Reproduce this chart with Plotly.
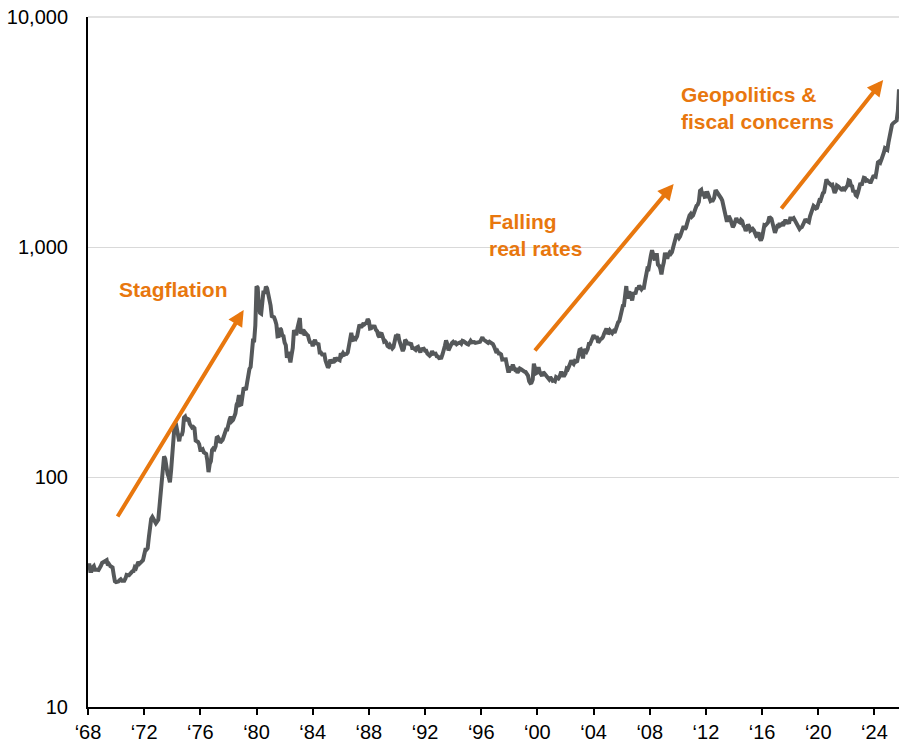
import math
import pandas as pd
import plotly.graph_objects as go

# Gold price, monthly (USD/oz)
gold_1968_1979 = [
    40, 42, 39, 39, 40.5, 41, 39.5, 39.3, 39.5, 39.4, 40, 41.1,
    42.3, 42.6, 43.3, 43.5, 43.5, 41.3, 41.8, 41.0, 40.9, 40.4, 37.5, 35.2,
    34.9, 35.0, 35.1, 35.6, 35.9, 35.4, 35.3, 35.4, 36.2, 37.5, 37.4, 37.4,
    37.9, 38.7, 38.9, 39.0, 40.5, 40.1, 41.0, 42.7, 42.0, 42.5, 42.9, 43.5,
    45.8, 48.3, 48.3, 49.0, 54.6, 62.1, 65.7, 67.0, 65.5, 64.9, 62.9, 63.9,
    65.1, 74.2, 84.4, 90.5, 102, 123, 120, 106, 103, 100, 94.8, 106.7,
    129, 150, 168, 172, 163, 154, 143, 154, 151, 158, 181, 183,
    176, 179, 178, 170, 167, 164, 165, 163, 144, 143, 142, 139,
    131, 131, 132, 128, 126, 126, 118, 105, 114, 117, 131, 133,
    132, 136, 148, 149, 146, 141, 143, 145, 150, 159, 161, 161,
    173, 178, 183, 175, 177, 183, 189, 206, 212, 227, 206, 207,
    227, 245, 242, 239, 257, 279, 295, 301, 355, 392, 392, 456,
]
gold_1980_1989 = [
    675, 665, 554, 517, 513, 600, 645, 627, 673, 661, 623, 594,
    557, 500, 499, 495, 480, 460, 409, 410, 443, 437, 413, 410,
    384, 374, 330, 350, 334, 315, 339, 364, 435, 422, 414, 444,
    481, 491, 420, 432, 438, 413, 422, 416, 412, 394, 382, 388,
    370, 386, 394, 381, 377, 378, 348, 348, 341, 341, 341, 320,
    303, 299, 304, 324, 316, 317, 317, 330, 323, 326, 325, 322,
    345, 339, 346, 340, 342, 343, 348, 376, 418, 423, 396, 391,
    408, 401, 409, 438, 460, 450, 451, 461, 460, 465, 467, 486,
    477, 442, 443, 452, 451, 451, 437, 431, 413, 406, 420, 419,
    404, 388, 390, 384, 371, 368, 375, 365, 362, 367, 394, 409,
]
gold_1990_1999 = [
    410, 417, 393, 374, 369, 353, 362, 395, 389, 381, 381, 378,
    383, 364, 364, 358, 357, 366, 368, 356, 349, 359, 360, 361,
    354, 354, 344, 338, 337, 341, 353, 343, 345, 344, 335, 334,
    329, 330, 330, 342, 367, 372, 392, 379, 355, 365, 374, 383,
    387, 382, 384, 378, 381, 385, 385, 380, 391, 389, 384, 379,
    379, 377, 382, 391, 385, 387, 386, 383, 383, 383, 386, 387,
    400, 405, 396, 393, 392, 385, 383, 387, 383, 381, 378, 369,
    355, 347, 352, 344, 344, 341, 324, 324, 323, 325, 306, 289,
    289, 297, 296, 308, 299, 292, 293, 284, 289, 296, 294, 291,
    287, 287, 286, 282, 276, 261, 256, 257, 265, 311, 293, 283,
]
gold_2000_2009 = [
    285, 300, 286, 280, 275, 286, 282, 275, 273, 270, 266, 272,
    266, 262, 263, 261, 272, 270, 268, 273, 283, 283, 276, 276,
    282, 296, 294, 302, 314, 321, 314, 310, 319, 317, 319, 333,
    357, 359, 340, 328, 355, 356, 351, 360, 379, 379, 389, 407,
    414, 405, 406, 404, 384, 392, 398, 400, 406, 420, 439, 442,
    424, 423, 434, 429, 422, 430, 424, 438, 456, 470, 476, 510,
    549, 555, 557, 610, 676, 596, 633, 632, 598, 586, 627, 629,
    631, 665, 655, 679, 667, 655, 665, 665, 712, 754, 806, 803,
    889, 922, 968, 909, 888, 889, 939, 839, 829, 806, 760, 816,
    858, 943, 924, 890, 928, 946, 934, 949, 996, 1043, 1127, 1135,
]
gold_2010_2019 = [
    1118, 1095, 1113, 1148, 1205, 1232, 1193, 1215, 1270, 1342, 1370, 1391,
    1356, 1372, 1424, 1473, 1510, 1528, 1572, 1755, 1772, 1666, 1739, 1652,
    1656, 1742, 1673, 1650, 1585, 1596, 1594, 1630, 1744, 1747, 1722, 1685,
    1671, 1627, 1593, 1487, 1414, 1343, 1286, 1347, 1349, 1316, 1275, 1221,
    1244, 1300, 1336, 1299, 1287, 1279, 1311, 1296, 1239, 1222, 1176, 1200,
    1251, 1227, 1178, 1198, 1199, 1181, 1128, 1118, 1125, 1159, 1086, 1068,
    1097, 1200, 1246, 1242, 1260, 1276, 1337, 1341, 1326, 1267, 1238, 1152,
    1192, 1234, 1231, 1267, 1246, 1260, 1237, 1283, 1315, 1279, 1282, 1265,
    1331, 1331, 1325, 1335, 1303, 1282, 1238, 1202, 1198, 1215, 1221, 1250,
    1291, 1320, 1300, 1286, 1283, 1359, 1413, 1500, 1510, 1495, 1471, 1480,
]
gold_2020_2025 = [
    1560, 1597, 1592, 1683, 1715, 1732, 1846, 1968, 1921, 1900, 1866, 1858,
    1867, 1808, 1718, 1760, 1850, 1834, 1807, 1785, 1776, 1777, 1822, 1790,
    1817, 1856, 1948, 1937, 1849, 1837, 1733, 1765, 1681, 1665, 1726, 1797,
    1898, 1853, 1913, 1999, 1992, 1943, 1951, 1918, 1916, 1916, 1985, 2028,
    2034, 2023, 2160, 2331, 2351, 2326, 2398, 2470, 2571, 2690, 2651, 2648,
    2850, 3050, 3200, 3400, 3450, 3500, 3500, 3550, 3900, 4850,
]

gold = (gold_1968_1979 + gold_1980_1989 + gold_1990_1999
        + gold_2000_2009 + gold_2010_2019 + gold_2020_2025)
dates = pd.date_range("1968-01-01", periods=len(gold), freq="MS")

tick_years = list(range(1968, 2025, 4))
tick_labels = ["\u2018" + str(y)[2:] for y in tick_years]
y_ticks = [10, 100, 1000, 10000]
y_labels = ["10", "100", "1,000", "10,000"]

orange = "#E8770E"
grid = "#D9D9D9"

fig = go.Figure()
fig.add_trace(go.Scatter(x=dates, y=gold, mode="lines",
                         line=dict(color="#55585A", width=4),
                         showlegend=False))

# top gridline (10,000) sits on the plot edge, plotly skips it
fig.add_shape(type="line", xref="paper", yref="paper", x0=0, x1=1, y0=1, y1=1,
              line=dict(color=grid, width=1.5), layer="below")

# arrows (tip in data coords, tail offset in pixels)
arrows = [
    ("1979-02-01", 532, -127, 208),
    ("2009-09-15", 1880, -140, 168),
    ("2024-08-15", 5325, -103, 130),
]
for x, y, ax, ay in arrows:
    fig.add_annotation(x=x, y=math.log10(y), xref="x", yref="y", ax=ax, ay=ay,
                       axref="pixel", ayref="pixel", text="",
                       showarrow=True, arrowhead=2, arrowsize=0.8,
                       arrowwidth=4, arrowcolor=orange, standoff=0)

labels = [
    (117, 289, "Stagflation"),
    (487, 235, "Falling<br>real rates"),
    (679, 108, "Geopolitics &<br>fiscal concerns"),
]
for px, py, txt in labels:
    fig.add_annotation(x=(px - 88) / 811, y=1 - (py - 17) / 690,
                       xref="paper", yref="paper", xanchor="left", yanchor="middle",
                       text="<b>" + txt + "</b>", showarrow=False, align="left",
                       font=dict(size=21, color=orange, family="Liberation Sans, Arial"))

fig.update_layout(
    width=899, height=747,
    margin=dict(l=88, r=0, t=17, b=40),
    plot_bgcolor="white", paper_bgcolor="white",
    font=dict(family="Liberation Sans, Arial", size=20, color="black"),
)
fig.update_xaxes(range=["1968-01-01", "2025-10-01"], automargin=False,
                 tickvals=[f"{y}-01-01" for y in tick_years], ticktext=tick_labels,
                 showgrid=False, showline=True, linecolor="black", linewidth=2,
                 ticks="outside", ticklen=6, tickwidth=2, tickcolor="black",
                 zeroline=False)
fig.update_yaxes(type="log", range=[1, 4], automargin=False,
                 tickvals=y_ticks, ticktext=y_labels,
                 showgrid=True, gridcolor=grid, gridwidth=1,
                 showline=True, linecolor="black", linewidth=2,
                 ticks="", ticklabelstandoff=14, zeroline=False)

# drop the default 8px body margin so the figure fills the window
fig.write_html("out.html", config={"displayModeBar": False},
               post_script="document.body.style.margin='0';")
